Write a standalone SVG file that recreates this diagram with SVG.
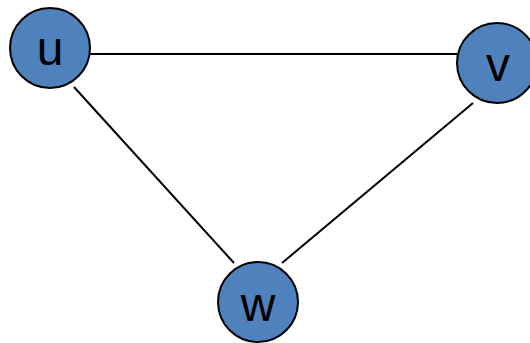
<svg xmlns="http://www.w3.org/2000/svg" width="530" height="343" viewBox="0 0 530 343">
<style>
.node circle{fill:#4f81bd;stroke:#000;stroke-width:2}
.node text{font-family:"Liberation Sans",Arial,sans-serif;font-size:48px;fill:#000;text-anchor:middle}
.edges line{stroke:#000;stroke-width:2}
</style>
<rect width="530" height="343" fill="#fff"/>
<g id="edges" class="edges">
<line x1="90" y1="54" x2="457" y2="54"/>
<line x1="74" y1="87" x2="234" y2="263"/>
<line x1="473" y1="103" x2="282" y2="263"/>
</g>
<g id="u" class="node"><circle cx="50" cy="48" r="40"/><text x="50" y="65">u</text></g>
<g id="v" class="node"><circle cx="497" cy="63" r="40"/><text x="498" y="81">v</text></g>
<g id="w" class="node"><circle cx="258" cy="302" r="40"/><text x="258" y="321">w</text></g>
</svg>
